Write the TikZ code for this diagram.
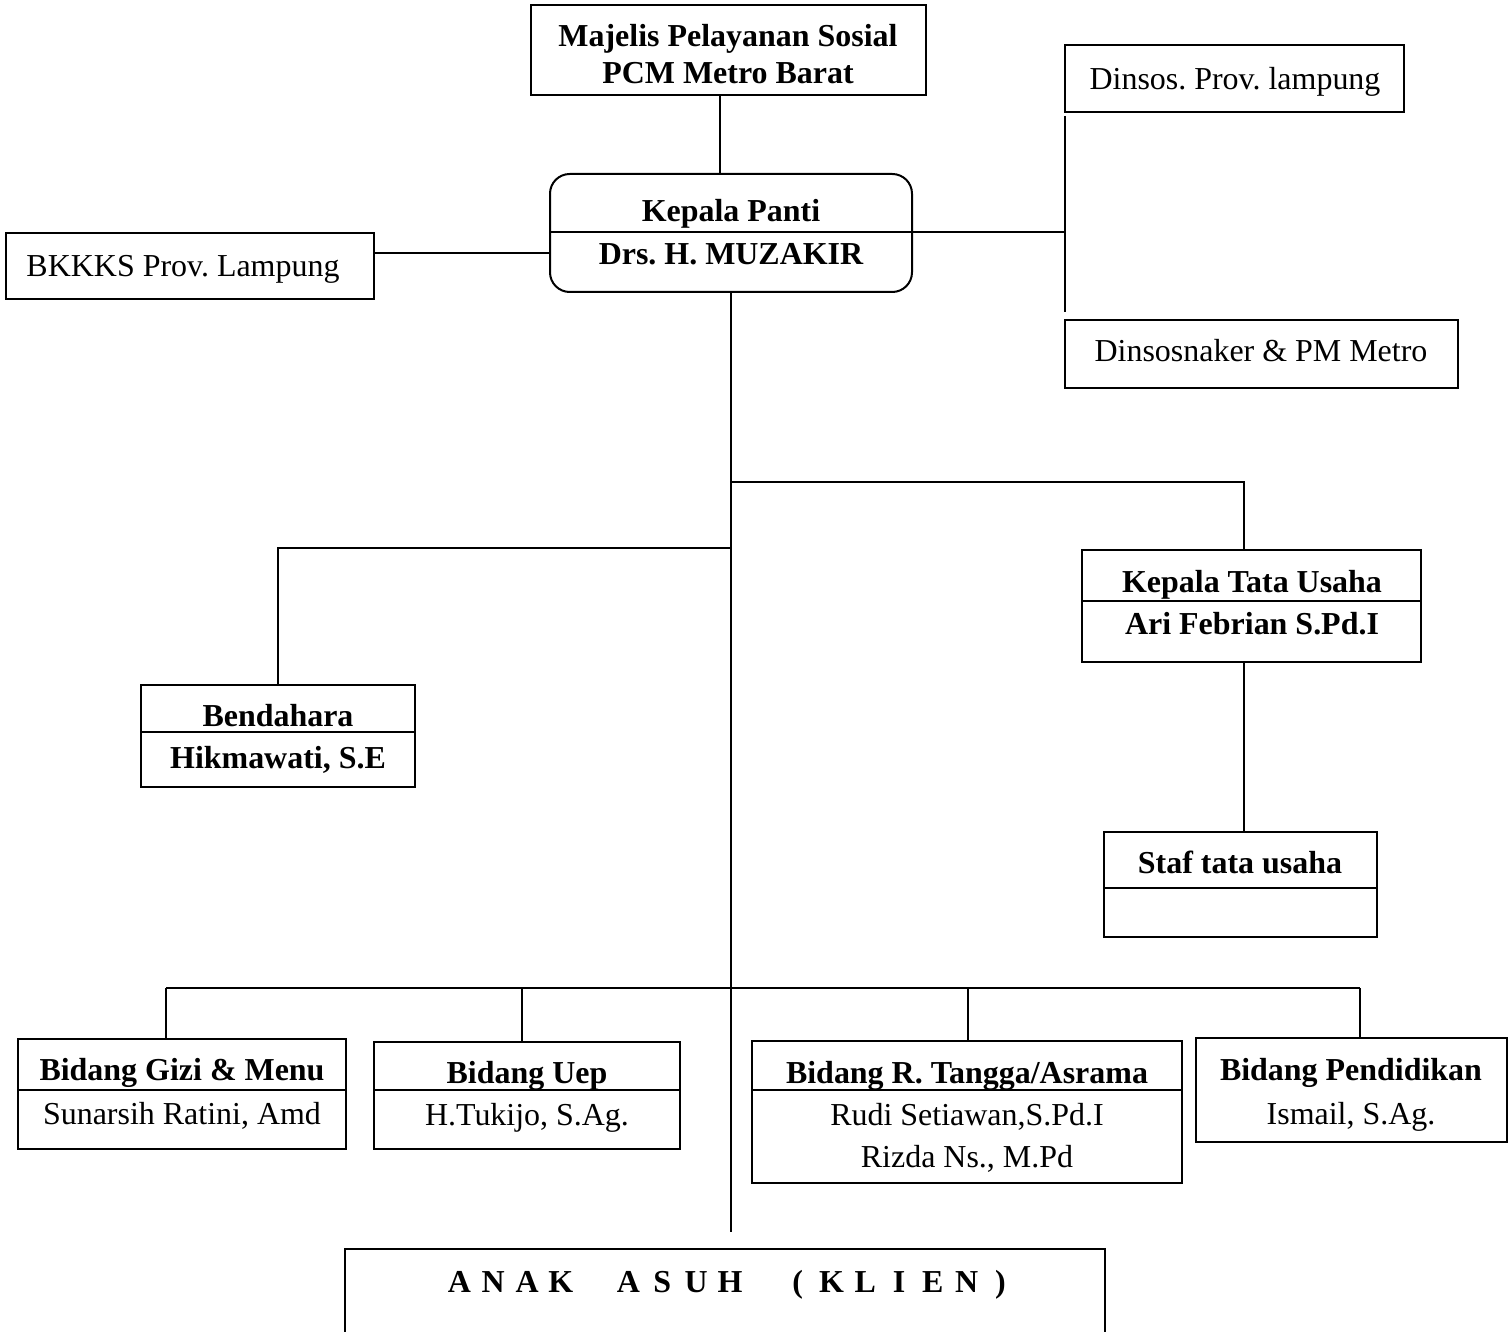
\documentclass[tikz,border=0pt]{standalone}
\usepackage{fontspec}
\setmainfont{Liberation Serif}
\usetikzlibrary{fit,calc,positioning}
\frenchspacing
\newcommand{\cell}[1]{\makebox[12.7pt][c]{#1}}

\begin{document}
\begin{tikzpicture}[x=0.0132cm,y=-0.0132cm,line width=0.75pt,
    font=\fontsize{12pt}{14pt}\selectfont,
    box/.style={draw,rectangle,inner sep=0pt},
    txt/.style={inner sep=0pt,text height=8.5pt,text depth=3.5pt,yshift=-1.9pt},
    hd/.style={txt,font=\fontsize{12pt}{14pt}\selectfont\bfseries}]
    \useasboundingbox (0,0) rectangle (1510,1332);

    \node[box,fit={(531,5) (926,95)}] (majelis) {};
    \node[hd] (majelis1) at (728,35) {Majelis Pelayanan Sosial};
    \node[hd] (majelis2) at (728,72) {PCM Metro Barat};

    \node[box,rounded corners=0.26cm,fit={(550,174) (912,292)}] (kepala) {};
    \node[hd] (kepala1) at (731,210) {Kepala Panti};
    \node[hd] (kepala2) at (731,253) {Drs. H. MUZAKIR};

    \node[box,fit={(6,233) (374,299)}] (bkkks) {};
    \node[txt] (bkkks1) at (183,265) {BKKKS Prov. Lampung};
    \node[box,fit={(1065,45) (1404,112)}] (dinsos) {};
    \node[txt] (dinsos1) at (1235,78) {Dinsos. Prov. lampung};
    \node[box,fit={(1065,320) (1458,388)}] (dinsosnaker) {};
    \node[txt] (dinsosnaker1) at (1261,350) {Dinsosnaker \& PM Metro};

    \node[box,fit={(141,685) (415,787)}] (bend) {};
    \node[hd] (bend1) at (278,715) {Bendahara};
    \node[hd] (bend2) at (278,757) {Hikmawati, S.E};

    \node[box,fit={(1082,550) (1421,662)}] (ktu) {};
    \node[hd] (ktu1) at (1252,581) {Kepala Tata Usaha};
    \node[hd] (ktu2) at (1252,623) {Ari Febrian S.Pd.I};

    \node[box,fit={(1104,832) (1377,937)}] (staf) {};
    \node[hd] (staf1) at (1240,862) {Staf tata usaha};

    \node[box,fit={(18,1039) (346,1149)}] (gizi) {};
    \node[hd] (gizi1) at (182,1069) {Bidang Gizi \& Menu};
    \node[txt] (gizi2) at (182,1113) {Sunarsih Ratini, Amd};

    \node[box,fit={(374,1042) (680,1149)}] (uep) {};
    \node[hd] (uep1) at (527,1072) {Bidang Uep};
    \node[txt] (uep2) at (527,1114) {H.Tukijo, S.Ag.};

    \node[box,fit={(752,1041) (1182,1183)}] (rt) {};
    \node[hd] (rt1) at (967,1072) {Bidang R. Tangga/Asrama};
    \node[txt] (rt2) at (967,1114) {Rudi Setiawan,S.Pd.I};
    \node[txt] (rt3) at (967,1156) {Rizda Ns., M.Pd};

    \node[box,fit={(1196,1038) (1507,1142)}] (pend) {};
    \node[hd] (pend1) at (1351,1069) {Bidang Pendidikan};
    \node[txt] (pend2) at (1351,1113) {Ismail, S.Ag.};

    \node[box,fit={(345,1249) (1105,1345)}] (anak) {};
    \node[hd] (anak1) at (730,1281) {\cell{A}\cell{N}\cell{A}\cell{K}\cell{}\cell{A}\cell{S}\cell{U}\cell{H}\cell{}\cell{(}\cell{K}\cell{L}\cell{I}\cell{E}\cell{N}\cell{)}};

    % dividers
    \draw ($(bend.north west)+(0,48)$) -- ($(bend.north east)+(0,48)$);
    \draw ($(ktu.north west)+(0,52)$) -- ($(ktu.north east)+(0,52)$);
    \draw ($(staf.north west)+(0,57)$) -- ($(staf.north east)+(0,57)$);
    \draw ($(gizi.north west)+(0,52)$) -- ($(gizi.north east)+(0,52)$);
    \draw ($(uep.north west)+(0,49)$) -- ($(uep.north east)+(0,49)$);
    \draw ($(rt.north west)+(0,50)$) -- ($(rt.north east)+(0,50)$);

    % connectors
    \coordinate (m) at (720,95);
    \coordinate (b) at (374,253);
    \coordinate (r) at (1065,232);
    \coordinate (rtop) at (1065,116);
    \coordinate (rbot) at (1065,312);
    \coordinate (trunkend) at (731,1232);
    \coordinate (j1) at (731,482);
    \coordinate (j2) at (731,548);
    \coordinate (tu) at (1244,482);
    \coordinate (d1) at (166,988);
    \coordinate (d2) at (522,988);
    \coordinate (d3) at (968,988);
    \coordinate (d4) at (1360,988);

    \draw (majelis.south -| m) -- (kepala.north -| m);
    \draw (kepala.west |- r) -- (r);
    \draw (rtop) -- (rbot);
    \draw (bkkks.east |- b) -- (kepala.west |- b);
    \draw (kepala.south) -- (trunkend);
    \draw (j1) -- (tu) -- (tu |- ktu.north);
    \draw (tu |- ktu.south) -- (tu |- staf.north);
    \draw (j2) -- (j2 -| bend.north) -- (bend.north);
    \draw (d1) -- (d4);
    \draw (d1) -- (d1 |- gizi.north);
    \draw (d2) -- (d2 |- uep.north);
    \draw (d3) -- (d3 |- rt.north);
    \draw (d4) -- (d4 |- pend.north);
\end{tikzpicture}
\end{document}
